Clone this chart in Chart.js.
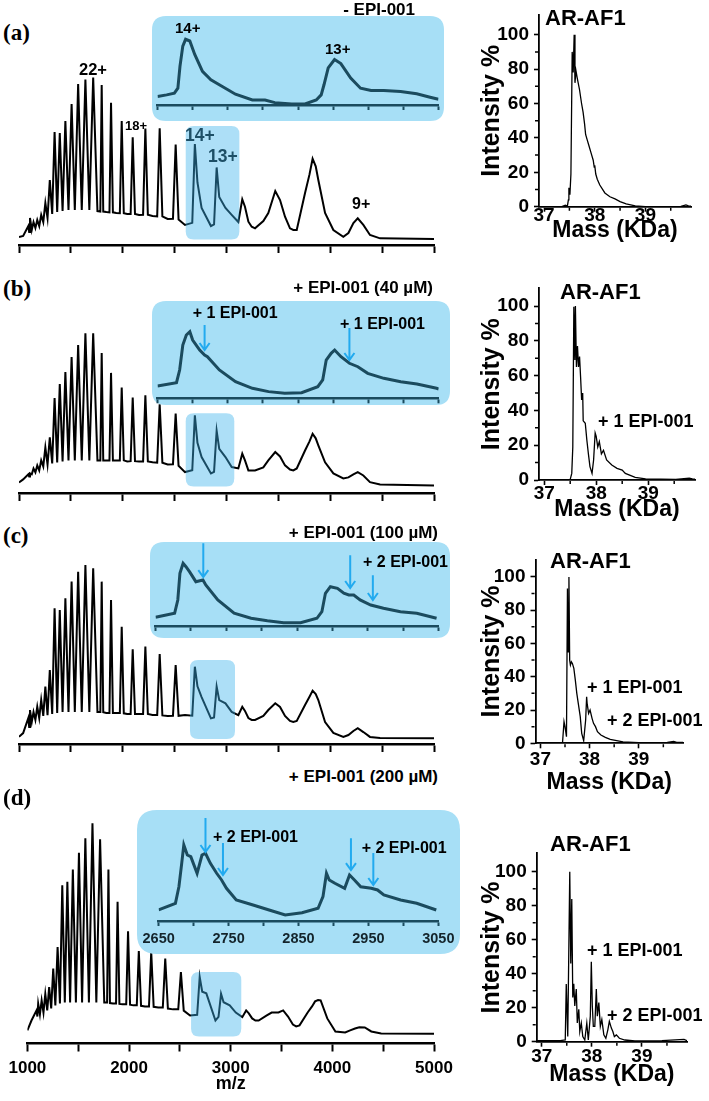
<!DOCTYPE html>
<html><head><meta charset="utf-8">
<script src="https://cdn.jsdelivr.net/npm/chart.js@4.4.1/dist/chart.umd.min.js"></script>
<style>
html,body{margin:0;padding:0;background:#fff;}
#page{position:relative;width:709px;height:1101px;overflow:hidden;font-family:"Liberation Sans",Arial,sans-serif;}
canvas{position:absolute;}
.t{position:absolute;white-space:nowrap;font-weight:bold;line-height:1;transform:translateY(-50%);color:#000;}
</style></head><body><div id="page"></div>
<script>
// ---------- DATA ----------
// main spectra (m/z sample points shared by the four conditions), relative intensity %
const mzMain = [1000,1040,1090,1098,1106,1123,1140,1158,1176,1195,
  1214,1234,1254,1275,1297,1320,1343,1368,1393,1420,
  1447,1477,1507,1538,1570,1605,1640,1678,1715,1756,
  1784,1797,1812,1842,1872,1887,1905,1938,1972,1990,
  2010,2043,2076,2096,2118,2157,2196,2218,2242,2287,
  2332,2356,2382,2433,2484,2510,2538,2600,2670,2695,
  2720,2760,2850,2880,2905,2930,2990,3050,3114,3152,
  3178,3211,3243,3275,3355,3403,3470,3516,3564,3612,
  3644,3677,3757,3800,3830,3860,3885,3950,4030,4126,
  4175,4223,4265,4319,4383,4480,5000];
const mainA = [1.2,1.9,8,4.3,13,5.6,10.5,6.8,11.8,8,
  14.9,10.5,22.3,13,36.5,15.5,66.3,16.7,65.6,17.3,
  73,18,83.6,18,96,18,98.8,18,100,17.3,
  17,95.4,17,16.7,16.5,84.4,16.5,16.1,16,73,
  16,15.5,15.5,63,15.5,14.9,15,68.4,15,14.2,
  14,68.5,14,12.4,12.5,58.5,12,8.7,10,58.8,
  35,19.2,8,9,44.3,26,19.2,14.9,10.5,24.6,
  20,10.7,7.6,6.6,11.1,16.1,29.7,24.1,13.8,6.6,
  5.6,5.6,28.5,40,49.7,45,36.5,16.1,5.6,1.4,
  3.7,9.9,12.8,8.7,2.5,0.4,0];
const mainB = [2,4,7.3,5.9,7.9,7.3,11.2,8.6,13.2,9.9,
  16.5,12.5,25,13.8,31.6,14.5,57.4,15.2,66.6,15.8,
  74.5,16.5,84.4,16.5,92.3,16.5,100,16.5,100,16.5,
  16.5,87,16.5,16.5,16.5,74,16.5,16.5,16.5,64.4,
  16.5,15.8,16,57.8,16,15.8,15.8,59.3,15.8,15.2,
  15,53.4,15,13.8,14,47.3,13,8.8,10,46.1,
  28,18.7,7.9,9,36,24,18.7,12.1,11.2,20.9,
  16.5,9.9,9.9,9.9,11.9,16.5,22,19.1,13.2,10.5,
  9.9,11.2,23,29,34,31,26.4,15.2,7.9,4.6,
  5.3,7.3,8.8,6.6,2.2,0.7,0];
const mainC = [0.9,3,11.7,6.5,16.3,9.4,15.2,10.6,18.2,11.7,
  22.1,12.9,29.8,13.4,39.4,14,75,14.6,74,15.2,
  80.8,15.2,90.4,15.2,96.1,15.2,100,15.2,98.1,15.2,
  15.2,90.4,15,14.6,14.6,79.8,14.6,14.6,14.6,64.4,
  14.4,14,14,51.4,14,14,14,52.9,14,13.4,
  13.4,48.6,13.2,12.9,13,42.3,13,13.4,13,41.3,
  30,23.8,11.5,12,29.8,22,20.2,15.2,13.4,18.2,
  15.8,11.7,10.6,10.6,12.9,16.3,20.2,18.1,12.9,10,
  9.4,10,19.2,24,27.5,25.5,22.1,9.4,3.1,0.8,
  1.9,4.2,5.8,3.6,0.8,0.2,0];
const mainD = [1.6,6.3,11.1,8.2,14.3,9.2,15.9,10.1,19,11.1,
  22.2,12,31,13.5,41.2,14.4,70.6,14.9,72.2,14.9,
  78.1,14.9,86,14.9,92.9,14.9,100,14.9,92.4,14.9,
  14.9,78.1,14.6,14.4,14.4,62.7,14.2,14,14,48.7,
  13.8,13.5,13.5,39.3,13.3,13,13,38.9,12.8,12.5,
  12.5,35.7,12,11.6,11.6,29.3,11,8.7,9,27,
  20,19.2,6.3,8,19,15,13.5,10.1,7.9,11.1,
  9.7,7.3,6.3,6.3,8.7,10.1,10.1,11.1,8.2,4.4,
  3.5,4,10.1,13,15.4,16,15.9,7.3,1.1,0.6,
  1.6,2.5,3.1,3,1.1,0.1,0];
const mainTicks = [1000,1500,2000,2500,3000,3500,4000,4500,5000];

// zoomed insets (2650-3050 m/z)
const insetMzA = [2650,2663,2674,2679,2682,2686,2690,2696,2703,2714,2726,2738,2761,2785,2803,2817,2841,2860,2876,2883,2887,2893,2902,2911,2925,2939,2954,2972,2996,3019,3038,3050];
const insetA   = [12.8,15.4,18,25.6,59,89.7,100,97.4,77,51.3,38.5,30.8,16.4,7.7,7.7,3.6,1.5,1.5,7.7,15.4,30.8,56.4,69.2,63,41,25.6,22,22,20.5,17,11.8,8.7];
const insetMzB = [2650,2677,2681.5,2686,2691,2696,2700,2710,2717,2721,2738,2761,2785,2808,2831,2855,2878,2885,2890,2897,2902,2911,2923,2935,2949,2972,2996,3019,3047,3050];
const insetB   = [18.5,23.4,42.5,80,95,100,87.5,72.5,65,62.5,42.5,25,15,10,7.5,8.4,17.4,27.5,57.5,67.6,72.5,62.5,52.6,47.4,37.5,30,25,21.5,15,14];
const insetMzC = [2650,2677,2681.5,2684.5,2689,2693,2698,2707,2717,2721,2738,2761,2785,2808,2831,2855,2878,2885,2890,2897,2907,2916,2923,2930,2939,2954,2972,2996,3019,3047];
const insetC   = [13.9,20.3,41.5,84,100,94.6,86.6,70.7,73.4,65.4,41.5,20.3,12.3,8.5,5.3,5.3,12.3,22.8,52.2,62.7,60.1,52.2,49.4,49.4,41.5,33.5,28.2,22.8,20.3,12.3];
const insetMzD = [2650,2674,2679,2683,2686,2691,2696,2705,2712,2717,2724,2733,2740,2747,2761,2785,2808,2831,2855,2878,2885,2890,2894,2902,2916,2923,2930,2939,2954,2963,2972,2996,3019,3047];
const insetD   = [14.5,23.3,45.1,75.9,100,86.8,84.6,62.8,86.8,89.1,75.9,62.8,54,43,27.6,21,14.5,7.9,10.9,16.7,32,62.8,54,49.6,43,60.5,54,45.1,43,40.8,34.2,27.6,23.3,14.5];
const insetTicks = [2650,2700,2750,2800,2850,2900,2950,3000,3050];
const insetLabels = [2650,2750,2850,2950,3050];

// deconvoluted mass spectra (kDa, intensity %)
const massA = [36.9,37.35,37.42,37.46,37.48,37.49,37.51,37.53,37.555,37.575,37.594,37.61,37.63,37.653,37.7,37.74,37.77,37.8,37.82,37.85,37.88,37.93,37.97,37.99,38.0,38.02,38.05,38.1,38.2,38.3,38.4,38.5,38.62,38.8,39.0,39.3,39.7,39.8,39.85,39.9];
const intA  = [0,0,0.8,0.3,4,11,7,19,90,78,100,72,79,75,68,60,55,48,42,39,36,31,27,23,24,19,16,12.6,8,5.8,4.5,3,1.6,0.5,0.1,0,0.2,1,0.5,0.3];
const massB = [36.9,37.5,37.53,37.55,37.57,37.59,37.6,37.62,37.64,37.66,37.68,37.7,37.72,37.74,37.75,37.79,37.82,37.85,37.88,37.92,37.95,37.98,38.0,38.03,38.06,38.1,38.14,38.2,38.3,38.4,38.5,38.56,38.75,38.95,39.53,39.79,39.85,39.9];
const intB  = [0,0.4,3.8,19,99.6,69,100,65,77,65,71,59,46,50,34,32.6,23,15,7.7,3.8,11.5,27,25,19,22,15,17,11.5,8.6,6.7,5.7,3.8,1.5,0.6,0.4,1,0.6,0.5];
const massC = [36.9,37.45,37.48,37.5,37.53,37.55,37.565,37.58,37.595,37.61,37.63,37.65,37.68,37.71,37.74,37.77,37.81,37.84,37.88,37.92,37.94,37.95,37.98,38.01,38.05,38.08,38.12,38.16,38.23,38.32,38.42,38.55,38.68,39.0,39.58,39.71,39.77,39.9];
const intC  = [0,0.5,13,10,4,93,55,100,50,47,49,48,45,38,30,24,16,6,1.6,14,28,24,18,20,15,12,10,7,5,3.6,2.4,1.6,0.8,0.4,0.6,1.2,0.6,0.5];
const massD = [36.9,37.37,37.47,37.49,37.52,37.56,37.58,37.6,37.62,37.64,37.66,37.69,37.71,37.74,37.76,37.79,37.82,37.86,37.9,37.93,37.97,37.99,38.01,38.03,38.06,38.09,38.11,38.14,38.17,38.2,38.24,38.28,38.32,38.35,38.39,38.42,38.45,38.49,38.55,38.66,38.86,39.4,39.84,39.9];
const intD  = [0.6,0.6,1,34,3,100,46,84,26,34,21,31,11,19,6,11,3,1,11,1,15,47,21,9,9,31,15,23,9,13,4,2,7,12,8,6,3,4,2,1,0.4,0.6,1.4,0.6];
const massTicks = [37,38,39];
const massMinor = [37.5,38.5,39.5];
const intTicks = [0,20,40,60,80,100];
const intMinor = [10,30,50,70,90];

// ---------- STYLE ----------
const TEAL = '#1b4b5e';
const BOX = '#a7dff6';
const OVER = 'rgba(59,178,235,0.42)';
const ARROW = '#22aaef';
const FONT = 'Liberation Sans';
const page = document.getElementById('page');

function addCanvas(left, top, w, h){
  const c = document.createElement('canvas');
  w = Math.round(w); h = Math.round(h);
  c.width = w; c.height = h;
  c.style.left = left + 'px'; c.style.top = top + 'px';
  c.style.width = w + 'px'; c.style.height = h + 'px';
  page.appendChild(c);
  return c;
}
function txt(str, x, y, size, o){
  o = o || {};
  const d = document.createElement('div');
  d.className = 't';
  d.textContent = str;
  d.style.left = x + 'px'; d.style.top = y + 'px';
  d.style.fontSize = size + 'px';
  if (o.color) d.style.color = o.color;
  if (o.family) d.style.fontFamily = o.family;
  if (o.align === 'right') d.style.transform = 'translate(-100%,-50%)';
  page.appendChild(d);
}
function rr(ctx, x, y, w, h, r){
  ctx.beginPath();
  ctx.moveTo(x + r, y);
  ctx.lineTo(x + w - r, y); ctx.quadraticCurveTo(x + w, y, x + w, y + r);
  ctx.lineTo(x + w, y + h - r); ctx.quadraticCurveTo(x + w, y + h, x + w - r, y + h);
  ctx.lineTo(x + r, y + h); ctx.quadraticCurveTo(x, y + h, x, y + h - r);
  ctx.lineTo(x, y + r); ctx.quadraticCurveTo(x, y, x + r, y);
  ctx.closePath();
}
const pts = (xs, ys) => xs.map((x, i) => ({x: x, y: ys[i]}));
const f = (size, lh) => ({family: FONT, size: size, weight: 'bold', lineHeight: lh || 1});

// ---------- MAIN SPECTRA ----------
function mainChart(g, ys, showLabels, hl){
  const W = 462;
  const k = (g.baseY - g.peakY) / 100;
  const c = addCanvas(0, g.top, W, g.axisY - g.top + g.axisH);
  const hlPlugin = {id: 'hl', afterDatasetsDraw(chart){
    const {ctx, scales: {x, y}} = chart;
    const x1 = x.getPixelForValue(hl.x1), x2 = x.getPixelForValue(hl.x2);
    const y1 = y.getPixelForValue(hl.y2), y2 = y.getPixelForValue(hl.y1);
    ctx.save(); ctx.fillStyle = OVER; rr(ctx, x1, y1, x2 - x1, y2 - y1, 8); ctx.fill(); ctx.restore();
  }};
  new Chart(c, {
    type: 'line',
    data: {datasets: [{data: pts(mzMain, ys), borderColor: '#000', borderWidth: 2, pointRadius: 0, tension: 0, fill: false}]},
    options: {
      responsive: false, animation: false, events: [],
      layout: {padding: {left: 19, right: W - 434, top: 0, bottom: 0}},
      plugins: {legend: {display: false}, tooltip: {enabled: false}},
      scales: {
        x: {type: 'linear', min: 1000, max: 5000,
          afterBuildTicks: s => { s.ticks = mainTicks.map(v => ({value: v})); },
          ticks: {autoSkip: false, maxRotation: 0, color: '#000', font: f(17), padding: 8.5,
            callback: v => (showLabels && v % 1000 === 0) ? String(v) : ''},
          grid: {drawOnChartArea: false, drawTicks: true, tickLength: 8, tickWidth: 2, tickColor: '#000'},
          border: {display: true, color: '#000', width: 2.5},
          title: {display: showLabels, text: 'm/z', color: '#000', font: f(18), padding: {top: 0, bottom: 0}},
          afterFit: s => { s.height = g.axisH; }
        },
        y: {display: false, min: -(g.axisY - g.baseY) / k, max: (g.baseY - g.top) / k}
      }
    },
    plugins: [hlPlugin]
  });
}

// ---------- INSETS ----------
function insetChart(g, xs, ys, showLabels, arrows){
  const w = g.R - g.L, h = g.B - g.T;
  const k = (g.axisY - g.peakY) / 100;
  const c = addCanvas(g.L, g.T, w, h);
  const bg = {id: 'bg', beforeDraw(chart){
    const ctx = chart.ctx; ctx.save(); ctx.fillStyle = BOX; rr(ctx, 0, 0, chart.width, chart.height, g.r); ctx.fill(); ctx.restore();
  }};
  const arr = {id: 'arr', afterDraw(chart){
    const {ctx, scales: {x, y}} = chart;
    ctx.save(); ctx.strokeStyle = ARROW; ctx.lineWidth = 2;
    arrows.forEach(a => {
      const px = x.getPixelForValue(a[0]), y1 = y.getPixelForValue(a[1]), y2 = y.getPixelForValue(a[2]);
      ctx.beginPath(); ctx.moveTo(px, y1); ctx.lineTo(px, y2);
      ctx.moveTo(px - 5, y2 - 7); ctx.lineTo(px, y2); ctx.lineTo(px + 5, y2 - 7); ctx.stroke();
    });
    ctx.restore();
  }};
  new Chart(c, {
    type: 'line',
    data: {datasets: [{data: pts(xs, ys), borderColor: TEAL, borderWidth: 3, pointRadius: 0, tension: 0, fill: false}]},
    options: {
      responsive: false, animation: false, events: [],
      layout: {padding: {left: 154.3 - g.L, right: g.R - 438.7, top: g.top - g.T, bottom: 0}},
      plugins: {legend: {display: false}, tooltip: {enabled: false}},
      scales: {
        x: {type: 'linear', min: 2650, max: 3050,
          afterBuildTicks: s => { s.ticks = insetTicks.map(v => ({value: v})); },
          ticks: {autoSkip: false, maxRotation: 0, color: '#14242b', font: f(14.5), padding: 5.5,
            callback: v => (showLabels && insetLabels.includes(v)) ? String(v) : ''},
          grid: {drawOnChartArea: false, drawTicks: true, tickLength: 5, tickWidth: 2, tickColor: TEAL},
          border: {display: true, color: TEAL, width: 2.5},
          afterFit: s => { s.height = g.B - g.axisY; }
        },
        y: {display: false, min: 0, max: (g.axisY - g.top) / k}
      }
    },
    plugins: [bg, arr]
  });
}

// ---------- DECONVOLUTED ----------
function massChart(g, xs, ys){
  const L = 460, W = 249;
  const cBottom = g.titleY + 11.5;
  const H = Math.round(cBottom - g.cTop);
  const k = (g.bottom - g.y100) / 100;
  const c = addCanvas(L, g.cTop, W, H);
  const minor = {id: 'minor', afterDraw(chart){
    const {ctx, scales: {x, y}, chartArea: a} = chart;
    ctx.save(); ctx.strokeStyle = '#000'; ctx.lineWidth = 1.5; ctx.beginPath();
    intMinor.forEach(v => { const py = y.getPixelForValue(v); ctx.moveTo(a.left - 1, py); ctx.lineTo(a.left - 4, py); });
    massMinor.forEach(v => { const px = x.getPixelForValue(v); ctx.moveTo(px, a.bottom + 1); ctx.lineTo(px, a.bottom + 4); });
    ctx.stroke(); ctx.restore();
  }};
  new Chart(c, {
    type: 'line',
    data: {datasets: [{data: pts(xs, ys), borderColor: '#000', borderWidth: 1.3, pointRadius: 0, tension: 0, fill: false}]},
    options: {
      responsive: false, animation: false, events: [],
      layout: {padding: {left: 0, right: L + W - g.right, top: g.top - g.cTop, bottom: 0}},
      plugins: {legend: {display: false}, tooltip: {enabled: false}},
      scales: {
        x: {type: 'linear', min: 36.9, max: 39.9,
          afterBuildTicks: s => { s.ticks = massTicks.map(v => ({value: v})); },
          ticks: {autoSkip: false, maxRotation: 0, color: '#000', font: f(19), padding: g.labOff - 5 - 9.5},
          grid: {drawOnChartArea: false, drawTicks: true, tickLength: 5, tickWidth: 1.6, tickColor: '#000'},
          border: {display: true, color: '#000', width: 1.8},
          title: {display: true, text: 'Mass (KDa)', color: '#000', font: f(23), padding: {top: 0, bottom: 0}},
          afterFit: s => { s.height = H - (g.bottom - g.cTop); }
        },
        y: {type: 'linear', min: 0, max: (g.bottom - g.top) / k,
          afterBuildTicks: s => { s.ticks = intTicks.map(v => ({value: v})); },
          ticks: {autoSkip: false, color: '#000', font: f(19), padding: 5},
          grid: {drawOnChartArea: false, drawTicks: true, tickLength: 5, tickWidth: 1.6, tickColor: '#000'},
          border: {display: true, color: '#000', width: 1.8},
          title: {display: true, text: 'Intensity %', color: '#000', font: f(25), padding: {top: 19.5, bottom: 0}},
          afterFit: s => { s.width = g.left - L; }
        }
      }
    },
    plugins: [minor]
  });
}

// ---------- BUILD ----------
mainChart({top: 60, axisY: 245, baseY: 239, peakY: 77.5, axisH: 10}, mainA, false, {x1: 2607, x2: 3124, y1: -0.3, y2: 70});
mainChart({top: 320, axisY: 492.5, baseY: 485, peakY: 333.3, axisH: 10}, mainB, false, {x1: 2607, x2: 3075, y1: -0.7, y2: 47.5});
mainChart({top: 550, axisY: 744, baseY: 738.3, peakY: 565, axisH: 10}, mainC, false, {x1: 2648, x2: 3082, y1: -0.4, y2: 45.2});
mainChart({top: 805, axisY: 1043, baseY: 1033.3, peakY: 823.3, axisH: 49.5}, mainD, true, {x1: 2610, x2: 3104, y1: -1.3, y2: 29.3});

insetChart({L: 152, T: 16, R: 444, B: 121, top: 22, axisY: 105, peakY: 39.3, r: 14}, insetMzA, insetA, false, []);
insetChart({L: 152, T: 301, R: 450, B: 405, top: 305, axisY: 398.3, peakY: 331.7, r: 14}, insetMzB, insetB, false,
  [[2717, 110, 72.5], [2923, 105.6, 57.5]]);
insetChart({L: 150, T: 542, R: 450, B: 638, top: 546, axisY: 626, peakY: 563.3, r: 14}, insetMzC, insetC, false,
  [[2717.5, 132, 78], [2925, 113, 60.6], [2957, 81, 41.5]]);
insetChart({L: 137, T: 810, R: 460, B: 954, top: 815, axisY: 921, peakY: 845, r: 20}, insetMzD, insetD, true,
  [[2717, 135.5, 90.8], [2742, 102.6, 60.5], [2925, 109, 67], [2957, 89.5, 47.4]]);

massChart({left: 539, right: 691, top: 15, bottom: 206.7, y100: 34.7, cTop: 0, titleY: 230, labOff: 9}, massA, intA);
massChart({left: 539, right: 695, top: 288.3, bottom: 480, y100: 306, cTop: 270, titleY: 509, labOff: 14}, massB, intB);
massChart({left: 535.5, right: 683, top: 559.3, bottom: 743.3, y100: 576.7, cTop: 545, titleY: 782.5, labOff: 16}, massC, intC);
massChart({left: 536.7, right: 687, top: 853.3, bottom: 1041.7, y100: 871.7, cTop: 835, titleY: 1074, labOff: 15}, massD, intD);

// ---------- TEXT ----------
const SERIF = '"Liberation Serif","Times New Roman",serif';
txt('(a)', 3, 32, 23, {family: SERIF});
txt('(b)', 3, 288, 23, {family: SERIF});
txt('(c)', 3, 535, 23, {family: SERIF});
txt('(d)', 3, 797, 23, {family: SERIF});

txt('- EPI-001', 415, 9, 17, {align: 'right'});
txt('+ EPI-001 (40 µM)', 433, 286.5, 17, {align: 'right'});
txt('+ EPI-001 (100 µM)', 438, 532, 17, {align: 'right'});
txt('+ EPI-001 (200 µM)', 438, 776, 17, {align: 'right'});

txt('22+', 79, 69, 16.5);
txt('18+', 125, 125, 13);
txt('14+', 185, 136, 17.5, {color: '#1d4f66'});
txt('13+', 208, 157, 17.5, {color: '#1d4f66'});
txt('9+', 352, 204, 16);

txt('14+', 175, 27, 15);
txt('13+', 325, 48, 15);
txt('+ 1 EPI-001', 192.7, 312.5, 16);
txt('+ 1 EPI-001', 340, 324, 16);
txt('+ 2 EPI-001', 363, 561.7, 16);
txt('+ 2 EPI-001', 213, 836.7, 16);
txt('+ 2 EPI-001', 361.7, 848, 16);

txt('AR-AF1', 545, 18, 22);
txt('AR-AF1', 560, 292, 22);
txt('AR-AF1', 550, 561, 22);
txt('AR-AF1', 550, 844, 22);
txt('+ 1 EPI-001', 598, 421, 18);
txt('+ 1 EPI-001', 587, 687, 18);
txt('+ 2 EPI-001', 607, 720, 18);
txt('+ 1 EPI-001', 587, 950, 18);
txt('+ 2 EPI-001', 607, 1015, 18);
</script>
</body></html>
